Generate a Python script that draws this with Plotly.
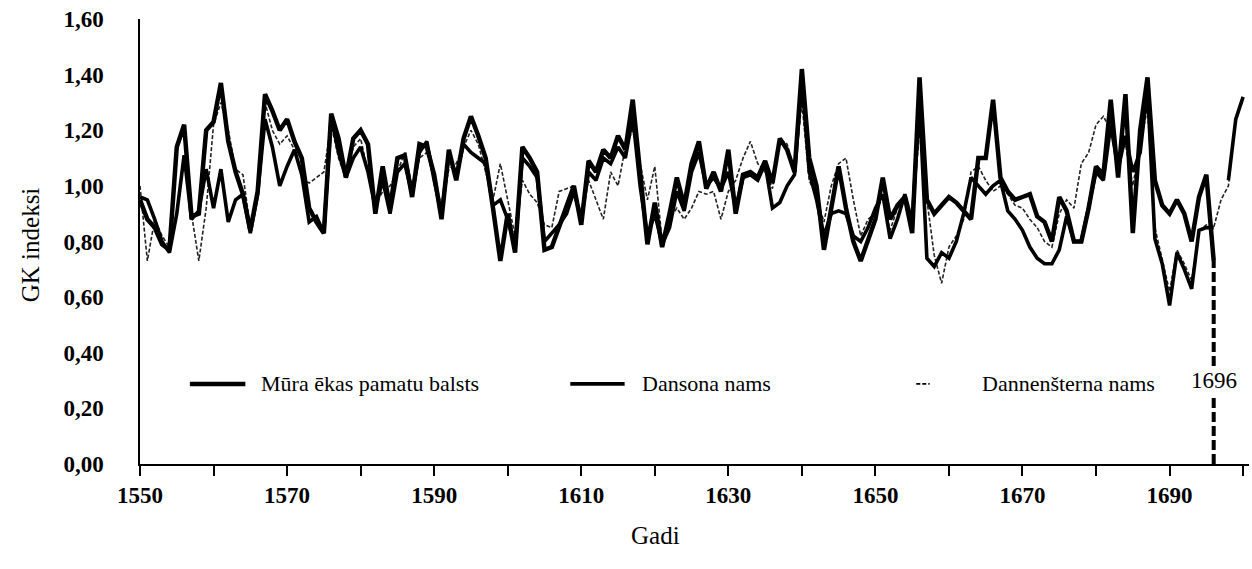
import plotly.graph_objects as go

# Years
years_mura = list(range(1550, 1697))
years_dansona = list(range(1550, 1701))
years_dannen = list(range(1550, 1701))

# GK indices per building (None = no value for that year)
mura = [
    0.95, 0.88, 0.85, 0.79, 0.77, 1.14, 1.22, 0.89, 0.90, 1.20,
    1.23, 1.37, 1.16, 1.05, 0.97, 0.84, 0.98, 1.33, 1.27, 1.20,
    1.24, 1.16, 1.10, 0.92, 0.87, 0.83, 1.26, 1.17, 1.03, 1.17,
    1.20, 1.15, 0.90, 1.07, 0.92, 1.10, 1.11, 0.96, 1.15, 1.14,
    1.04, 0.88, 1.13, 1.02, 1.17, 1.25, 1.18, 1.10, 0.92, 0.73,
    0.90, 0.76, 1.14, 1.10, 1.05, 0.77, 0.78, 0.85, 0.93, 1.00,
    0.86, 1.09, 1.05, 1.13, 1.10, 1.18, 1.13, 1.31, 1.05, 0.79,
    0.94, 0.78, 0.90, 1.03, 0.93, 1.08, 1.16, 0.99, 1.05, 0.98,
    1.13, 0.90, 1.04, 1.05, 1.03, 1.09, 1.01, 1.17, 1.13, 1.05,
    1.42, 1.10, 1.00, 0.77, 0.92, 1.07, 0.92, 0.80, 0.73, 0.80,
    0.88, 1.03, 0.88, 0.93, 0.96, 0.83, 1.39, 0.95, 0.90, 0.93,
    0.96, 0.94, 0.91, 0.88, 1.10, 1.10, 1.31, 1.03, 0.98, 0.95,
    0.96, 0.97, 0.89, 0.87, 0.80, 0.96, 0.91, 0.80, 0.80, 0.92,
    1.07, 1.04, 1.31, 1.03, 1.33, 0.83, 1.20, 1.39, 1.02, 0.93,
    0.90, 0.95, 0.90, 0.80, 0.96, 1.04, 0.73,
]

dansona = [
    0.96, 0.95, 0.88, 0.80, 0.76, 0.90, 1.11, 0.88, 0.91, 1.06,
    0.92, 1.06, 0.87, 0.95, 0.97, 0.83, 0.97, 1.24, 1.14, 1.00,
    1.07, 1.13, 1.04, 0.87, 0.89, 0.83, 1.25, 1.12, 1.03, 1.10,
    1.14, 1.05, 0.92, 1.02, 0.90, 1.05, 1.08, 0.97, 1.12, 1.16,
    1.02, 0.90, 1.11, 1.04, 1.15, 1.12, 1.10, 1.08, 0.93, 0.95,
    0.88, 0.78, 1.10, 1.07, 1.03, 0.80, 0.83, 0.86, 0.90, 0.98,
    0.88, 1.05, 1.02, 1.10, 1.08, 1.14, 1.10, 1.25, 1.00, 0.82,
    0.90, 0.79, 0.85, 0.98, 0.91, 1.05, 1.12, 1.00, 1.03, 0.99,
    1.05, 0.92, 1.03, 1.04, 1.02, 1.08, 0.92, 0.94, 1.00, 1.04,
    1.38, 1.05, 0.95, 0.82, 0.90, 0.91, 0.90, 0.82, 0.80, 0.85,
    0.92, 0.97, 0.81, 0.88, 0.97, 0.87, 1.30, 0.74, 0.71, 0.76,
    0.74, 0.80, 0.90, 1.03, 1.00, 0.97, 1.00, 1.02, 0.91, 0.88,
    0.84, 0.78, 0.74, 0.72, 0.72, 0.77, 0.89, 0.80, 0.80, 0.93,
    1.05, 1.02, 1.22, 1.06, 1.18, 1.05, 1.12, 1.35, 0.81, 0.72,
    0.57, 0.76, 0.70, 0.63, 0.84, 0.85, 0.85, None, 1.02, 1.24,
    1.32,
]

dannen = [
    1.00, 0.73, 0.88, 0.82, 0.78, 1.13, 1.20, 0.90, 0.73, 0.92,
    1.22, 1.30, 1.20, 1.06, 1.04, 0.85, 0.96, 1.30, 1.20, 1.15,
    1.18, 1.13, 1.03, 1.01, 1.03, 1.05, 1.22, 1.10, 1.03, 1.14,
    1.17, 1.05, 0.93, 0.98, 1.00, 1.05, 1.12, 1.00, 1.10, 1.12,
    1.05, 0.92, 1.06, 1.08, 1.14, 1.20, 1.15, 1.05, 0.95, 1.08,
    0.95, 0.82, 1.02, 0.97, 0.94, 0.86, 0.85, 0.98, 0.99, 1.00,
    0.90, 1.02, 0.95, 0.88, 1.05, 1.00, 1.14, 1.20, 1.08, 0.95,
    1.07, 0.80, 0.88, 0.92, 0.88, 0.92, 0.98, 0.97, 0.98, 0.88,
    0.98, 1.02, 1.10, 1.16, 1.08, 1.05, 0.99, 1.17, 1.15, 1.05,
    1.30, 1.02, 0.96, 0.87, 1.00, 1.08, 1.10, 0.95, 0.82, 0.88,
    0.90, 0.96, 0.84, 0.92, 0.95, 0.88, 1.20, 0.95, 0.75, 0.65,
    0.78, 0.82, 0.88, 1.05, 1.07, 1.02, 0.98, 1.00, 0.97, 0.93,
    0.92, 0.88, 0.85, 0.80, 0.78, 0.90, 0.95, 0.92, 1.08, 1.12,
    1.22, 1.25, 1.20, 1.10, 1.15, 1.00, 1.15, 1.28, 0.85, 0.74,
    0.62, 0.77, 0.72, 0.66, 0.84, 0.86, 0.85, 0.95, 1.00, 1.24,
    1.31,
]

x_tick_vals = list(range(1550, 1701, 10))
x_tick_text = [str(v) if (v - 1550) % 20 == 0 and v < 1700 else "" for v in x_tick_vals]
y_tick_vals = [0, 0.2, 0.4, 0.6, 0.8, 1.0, 1.2, 1.4, 1.6]

legend_names = ["Mūra ēkas pamatu balsts", "Dansona nams", "Dannenšterna nams"]
marked_year = 1696

SERIF = "Liberation Serif, Times New Roman, Times, serif"

fig = go.Figure()

fig.add_trace(go.Scatter(
    x=years_dannen, y=dannen, mode="lines", name=legend_names[2],
    line=dict(color="#222222", width=1.6, dash="4px,2px"),
))
fig.add_trace(go.Scatter(
    x=years_dansona, y=dansona, mode="lines", name=legend_names[1],
    line=dict(color="black", width=3.6), connectgaps=False,
))
fig.add_trace(go.Scatter(
    x=years_mura, y=mura, mode="lines", name=legend_names[0],
    line=dict(color="black", width=4.5),
))

# Dashed marker line at the last Mūra year
fig.add_shape(
    type="line", xref="x", yref="y",
    x0=marked_year, x1=marked_year, y0=0, y1=mura[-1],
    line=dict(color="black", width=4, dash="10px,4px"),
)
fig.add_annotation(
    x=marked_year, y=0.30, xref="x", yref="y", text=str(marked_year),
    showarrow=False, bgcolor="white",
    font=dict(family=SERIF, size=23, color="black"),
)

# Legend drawn inside the plot area
legend_y = 0.18
swatches = [
    (0.045, 0.095, 4.5, "solid", 0.107),
    (0.388, 0.437, 3.6, "solid", 0.451),
    (0.700, 0.712, 1.6, "4px,2px", 0.757),
]
for name, (sx0, sx1, w, d, tx) in zip(legend_names, swatches):
    fig.add_shape(
        type="line", xref="paper", yref="paper",
        x0=sx0, x1=sx1, y0=legend_y, y1=legend_y,
        line=dict(color="black", width=w, dash=d),
    )
    fig.add_annotation(
        x=tx, y=legend_y, xref="paper", yref="paper", text=name,
        showarrow=False, xanchor="left", yanchor="middle",
        font=dict(family=SERIF, size=22, color="black"),
    )

# Axis titles
fig.add_annotation(
    x=-0.099, y=0.492, xref="paper", yref="paper", text="GK indeksi",
    textangle=-90, showarrow=False, xanchor="center", yanchor="middle",
    font=dict(family=SERIF, size=25, color="black"),
)
fig.add_annotation(
    x=0.4644, y=-0.16, xref="paper", yref="paper", text="Gadi",
    showarrow=False, xanchor="center", yanchor="middle",
    font=dict(family=SERIF, size=25, color="black"),
)

fig.update_layout(
    width=1252, height=569,
    margin=dict(l=140, r=3, t=19, b=105),
    paper_bgcolor="white", plot_bgcolor="white",
    showlegend=False,
    separators=",.",
    font=dict(family=SERIF, color="black"),
)

fig.update_xaxes(
    range=[1550, 1700.8],
    tickmode="array", tickvals=x_tick_vals, ticktext=x_tick_text,
    ticks="outside", ticklen=10, tickwidth=1.5, tickcolor="black",
    showline=True, linecolor="black", linewidth=1.5,
    showgrid=False, zeroline=False,
    tickfont=dict(family=SERIF, size=23, color="black", weight="bold"),
)
fig.update_yaxes(
    range=[0, 1.6],
    tickmode="array", tickvals=y_tick_vals, tickformat=".2f",
    ticks="", showline=True, linecolor="black", linewidth=1.5,
    showgrid=False, zeroline=False, ticklabelstandoff=30,
    tickfont=dict(family=SERIF, size=23, color="black", weight="bold"),
)

fig.write_html("out.html")
